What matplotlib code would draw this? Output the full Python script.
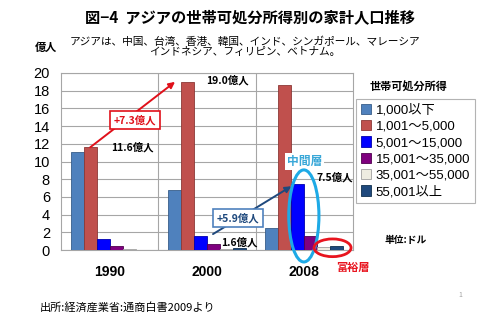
import matplotlib.pyplot as plt
import numpy as np
from matplotlib.patches import Ellipse

plt.rcParams['font.family'] = ['Noto Sans CJK JP', 'DejaVu Sans']

# 世帯可処分所得別の家計人口（億人）
years = ['1990', '2000', '2008']
brackets = ['1,000以下', '1,001～5,000', '5,001～15,000',
            '15,001～35,000', '35,001～55,000', '55,001以上']
pop_1990 = [11.1, 11.6, 1.2, 0.45, 0.15, 0.05]
pop_2000 = [6.8, 19.0, 1.6, 0.7, 0.15, 0.2]
pop_2008 = [2.5, 18.7, 7.5, 1.6, 0.35, 0.4]
colors = ['#4F81BD', '#C0504D', '#0000FF', '#7F007F', '#EEECE1', '#1F497D']
edges = ['#385D8A', '#8C3836', '#0000B0', '#500050', '#A0A0A0', '#10304F']

data = np.array([pop_1990, pop_2000, pop_2008])

fig = plt.figure(figsize=(5, 3.23), dpi=100)
ax = fig.add_axes([0.122, 0.226, 0.584, 0.548])

x = np.arange(len(years))
w = 0.8 / len(brackets)
bars = []
for j in range(len(brackets)):
    b = ax.bar(x + (j - 2.5) * w, data[:, j], w, color=colors[j],
               edgecolor=edges[j], linewidth=0.6, label=brackets[j], zorder=3)
    bars.append(b)

ax.set_xlim(-0.5, 2.5)
ax.set_ylim(0, 20)
ax.set_yticks(range(0, 21, 2))
ax.set_xticks(x)
ax.set_xticklabels(years, family='Liberation Sans', fontsize=10, weight='bold')
ax.tick_params(axis='y', labelsize=10.5, length=0, pad=8)
ax.tick_params(axis='x', length=0, pad=11)
for t in ax.get_yticklabels():
    t.set_family('Liberation Sans')
ax.grid(axis='y', color='#A6A6A6', linewidth=0.8, zorder=0)
for xv in [0.5, 1.5]:
    ax.axvline(xv, color='#A6A6A6', linewidth=0.8, zorder=0)
for s in ax.spines.values():
    s.set_color('#A6A6A6')
    s.set_linewidth(0.8)

# 増加の矢印と注記
ax.annotate('', xy=(1 - 2 * w - w / 2 + 0.005, pop_2000[1]),
            xytext=(-1.5 * w, pop_1990[1]),
            arrowprops=dict(arrowstyle='-|>', color='#E0101A', lw=1.4,
                            mutation_scale=9, shrinkA=0, shrinkB=0), zorder=5)
ax.text(0.26, 14.7, '+7.3億人', color='#E0101A', fontsize=7.5, weight='bold',
        ha='center', va='center', zorder=6,
        bbox=dict(facecolor='white', edgecolor='#E0101A', lw=1.2, pad=2.5))
ax.annotate('', xy=(2 - w, pop_2008[2] - 0.3),
            xytext=(1 + w / 2 - 0.005, pop_2000[2] + 0.2),
            arrowprops=dict(arrowstyle='-|>', color='#1F497D', lw=1.4,
                            mutation_scale=9, shrinkA=0, shrinkB=0), zorder=5)
ax.text(1.32, 3.6, '+5.9億人', color='#1F497D', fontsize=7.5, weight='bold',
        ha='center', va='center', zorder=6,
        bbox=dict(facecolor='white', edgecolor='#4F81BD', lw=1.2, pad=2.5))

ax.text(0.01, pop_1990[1], f'{pop_1990[1]:.1f}億人', fontsize=7.5,
        weight='bold', va='center', zorder=6)
ax.text(0.99, pop_2000[1] + 0.2, f'{pop_2000[1]:.1f}億人', fontsize=7.5,
        weight='bold', va='center', zorder=6)
ax.text(1.14, 0.9, f'{pop_2000[2]:.1f}億人', fontsize=7.5,
        weight='bold', va='center', zorder=6)
ax.text(2.12, pop_2008[2] + 0.7, f'{pop_2008[2]:.1f}億人', fontsize=7.5,
        weight='bold', va='center', zorder=6)

# 中間層・富裕層の囲み
ax.add_patch(Ellipse((1.995, 3.85), 0.31, 10.4, fill=False,
                     edgecolor='#1EAAE6', lw=2.2, zorder=7, clip_on=False))
ax.text(2.0, 10.0, '中間層', color='#3AA8D8', fontsize=8.5, weight='bold',
        ha='center', va='center', zorder=6,
        bbox=dict(facecolor='white', edgecolor='none', pad=1.5))
ax.add_patch(Ellipse((2.29, 0.25), 0.38, 2.0, fill=False,
                     edgecolor='#E8141E', lw=2.0, zorder=7, clip_on=False))
ax.text(2.5, -2.0, '富裕層', color='#E8141E', fontsize=8, weight='bold',
        ha='center', va='center', clip_on=False)

# 凡例
leg = fig.legend(handles=bars, loc='upper left', bbox_to_anchor=(0.712, 0.693),
                 fontsize=9.5, frameon=True, fancybox=False, handlelength=0.8,
                 handleheight=0.8, handletextpad=0.35, labelspacing=0.28,
                 borderpad=0.35, borderaxespad=0)
leg.get_frame().set_edgecolor('#A0A0A0')
leg.get_frame().set_linewidth(0.8)
for t in leg.get_texts():
    t.set_family(['Liberation Sans', 'Noto Sans CJK JP'])

fig.text(0.818, 0.731, '世帯可処分所得', fontsize=8, weight='bold',
         ha='center', va='center')
fig.text(0.812, 0.257, '単位:ドル', fontsize=7, weight='bold',
         ha='center', va='center')

# タイトル・出所
fig.text(0.5, 0.947, '図−4  アジアの世帯可処分所得別の家計人口推移',
         fontsize=11, weight='bold', ha='center', va='center')
fig.text(0.49, 0.856, 'アジアは、中国、台湾、香港、韓国、インド、シンガポール、マレーシア\n'
         'インドネシア、フィリピン、ベトナム。', fontsize=7.7, ha='center',
         va='center', linespacing=1.0)
fig.text(0.092, 0.853, '億人', fontsize=8, weight='bold', ha='center', va='center')
fig.text(0.08, 0.047, '出所:経済産業省:通商白書2009より', fontsize=8,
         ha='left', va='center')
fig.text(0.92, 0.087, '1', fontsize=5, color='#A0A0A0', ha='center', va='center')

fig.savefig('out.png', dpi=100)
